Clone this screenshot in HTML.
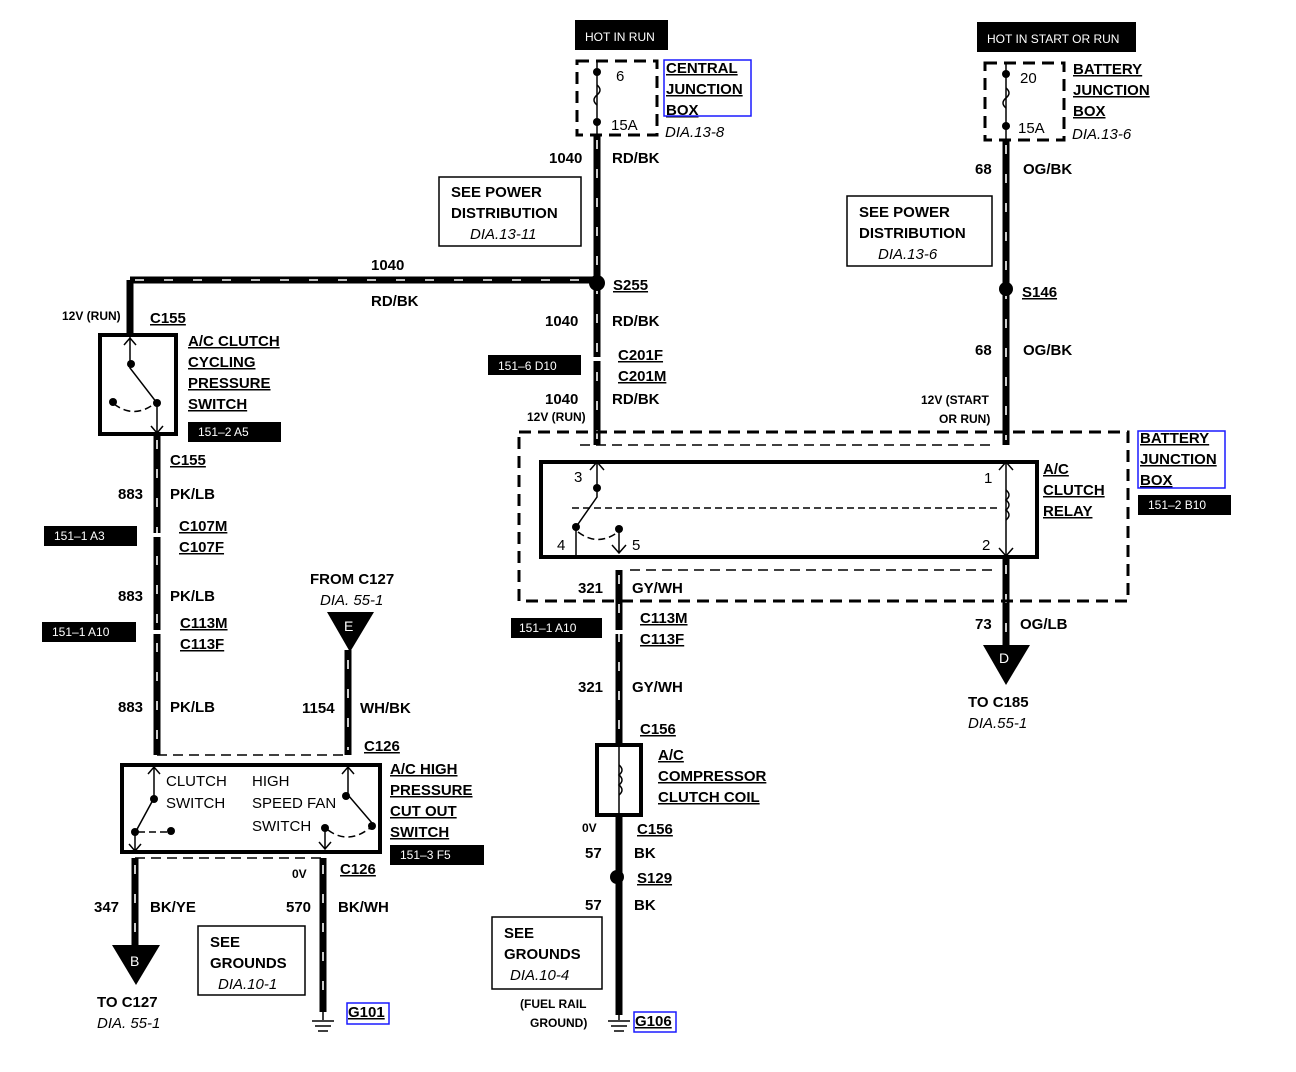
<!DOCTYPE html>
<html><head><meta charset="utf-8"><style>
body{margin:0;background:#fff}
svg{display:block}
text{font-family:"Liberation Sans",Arial,sans-serif;font-weight:bold;font-size:15px;fill:#000}
.n{font-weight:normal}
.i{font-style:italic;font-weight:normal}
.s{font-size:12px}
.u{text-decoration:underline}
.w{fill:#fff;font-weight:normal;font-size:12px}
.wire{stroke:#000;stroke-width:7;fill:none}
.st{stroke:#fff;stroke-width:1.6;stroke-dasharray:9 20;fill:none}
.ln{stroke:#000;stroke-width:1.5;fill:none}
.dash{stroke:#000;stroke-width:3;stroke-dasharray:12 7;fill:none}
.box{stroke:#000;stroke-width:4;fill:none}
.tb{stroke:#000;stroke-width:1.5;fill:#fff}
.blu{stroke:#1a1aff;stroke-width:1.5;fill:none}
</style></head><body>
<svg width="1296" height="1072" viewBox="0 0 1296 1072">
<g class="wire">
<path d="M597 135V445"/><path d="M1006 140V445"/><path d="M130 280H597"/><path d="M130 280V335"/>
<path d="M157 434V755"/><path d="M348 650V755"/><path d="M619 570V745"/><path d="M619 815V1015"/>
<path d="M1006 557V645"/><path d="M135 858V945"/><path d="M323 858V1012"/>
</g>
<g class="st">
<path d="M597 140V440"/><path d="M1006 145V440"/><path d="M135 280H590"/>
<path d="M157 440V750"/><path d="M348 660V750"/><path d="M619 575V740"/><path d="M1006 565V640"/><path d="M135 865V940"/><path d="M323 865V1005"/>
</g>
<g fill="#fff"><rect x="590" y="357" width="15" height="4"/><rect x="150" y="533" width="15" height="4"/><rect x="150" y="630" width="15" height="4"/><rect x="612" y="630" width="15" height="4"/></g>
<rect x="575" y="20" width="93" height="30" fill="#000"/><text x="585" y="41" class="w">HOT IN RUN</text>
<rect x="577" y="61" width="80" height="74" class="dash"/>
<path d="M597 62V135" class="ln" stroke-width="2"/><circle cx="597" cy="72" r="4"/><circle cx="597" cy="122" r="4"/>
<path d="M597 85q6 5 0 10q-6 5 0 10" class="ln" fill="#fff"/>
<text x="616" y="81" class="n">6</text><text x="611" y="130" class="n">15A</text>
<text x="666" y="73" class="u">CENTRAL</text><text x="666" y="94" class="u">JUNCTION</text><text x="666" y="115" class="u">BOX</text>
<rect x="664" y="60" width="87" height="56" class="blu"/><text x="665" y="137" class="i">DIA.13-8</text>
<text x="549" y="163">1040</text><text x="612" y="163">RD/BK</text>
<rect x="439" y="177" width="142" height="69" class="tb"/><text x="451" y="197">SEE POWER</text><text x="451" y="218">DISTRIBUTION</text><text x="470" y="239" class="i">DIA.13-11</text>
<circle cx="597" cy="283" r="8"/><text x="613" y="290" class="u">S255</text>
<text x="371" y="270">1040</text><text x="371" y="306">RD/BK</text>
<text x="545" y="326">1040</text><text x="612" y="326">RD/BK</text>
<text x="618" y="360" class="u">C201F</text><text x="618" y="381" class="u">C201M</text>
<rect x="488" y="355" width="93" height="20" fill="#000"/><text x="498" y="370" class="w">151–6 D10</text>
<text x="545" y="404">1040</text><text x="612" y="404">RD/BK</text><text x="527" y="421" class="s">12V (RUN)</text>
<rect x="977" y="22" width="159" height="30" fill="#000"/><text x="987" y="43" class="w">HOT IN START OR RUN</text>
<rect x="985" y="63" width="79" height="77" class="dash"/>
<path d="M1006 64V140" class="ln" stroke-width="2"/><circle cx="1006" cy="74" r="4"/><circle cx="1006" cy="126" r="4"/>
<path d="M1006 88q6 5 0 10q-6 5 0 10" class="ln" fill="#fff"/>
<text x="1020" y="83" class="n">20</text><text x="1018" y="133" class="n">15A</text>
<text x="1073" y="74" class="u">BATTERY</text><text x="1073" y="95" class="u">JUNCTION</text><text x="1073" y="116" class="u">BOX</text><text x="1072" y="139" class="i">DIA.13-6</text>
<text x="975" y="174">68</text><text x="1023" y="174">OG/BK</text>
<rect x="847" y="196" width="145" height="70" class="tb"/><text x="859" y="217">SEE POWER</text><text x="859" y="238">DISTRIBUTION</text><text x="878" y="259" class="i">DIA.13-6</text>
<circle cx="1006" cy="289" r="7"/><text x="1022" y="297" class="u">S146</text>
<text x="975" y="355">68</text><text x="1023" y="355">OG/BK</text>
<text x="921" y="404" class="s">12V (START</text><text x="939" y="423" class="s">OR RUN)</text>
<rect x="519" y="432" width="609" height="169" class="dash"/>
<path d="M580 445H995" class="ln" stroke-dasharray="10 6" stroke-width="2"/><path d="M630 570H995" class="ln" stroke-dasharray="10 6" stroke-width="2"/>
<rect x="541" y="462" width="496" height="95" class="box"/>
<path d="M597 464V497L576 527V557M1006 464V557" class="ln" stroke-width="2"/>
<circle cx="597" cy="488" r="4"/><circle cx="576" cy="527" r="4"/><circle cx="619" cy="529" r="4"/>
<path d="M619 529V552M612 545l7 8 7-8M590 470l7-8 7 8M999 470l7-8 7 8M999 548l7 8 7-8" class="ln" stroke-width="2"/>
<path d="M578 532q20 15 40 0M572 508H1000" class="ln" stroke-dasharray="7 4" stroke-width="2"/>
<path d="M1006 490q6 5 0 10q6 5 0 10q6 5 0 10" class="ln" stroke-width="2" fill="#fff"/>
<text x="574" y="482" class="n">3</text><text x="557" y="550" class="n">4</text><text x="632" y="550" class="n">5</text><text x="984" y="483" class="n">1</text><text x="982" y="550" class="n">2</text>
<text x="1043" y="474" class="u">A/C</text><text x="1043" y="495" class="u">CLUTCH</text><text x="1043" y="516" class="u">RELAY</text>
<text x="1140" y="443" class="u">BATTERY</text><text x="1140" y="464" class="u">JUNCTION</text><text x="1140" y="485" class="u">BOX</text>
<rect x="1138" y="431" width="87" height="57" class="blu"/>
<rect x="1138" y="495" width="93" height="20" fill="#000"/><text x="1148" y="509" class="w">151–2 B10</text>
<text x="578" y="593">321</text><text x="632" y="593">GY/WH</text>
<rect x="511" y="618" width="91" height="20" fill="#000"/><text x="519" y="632" class="w">151–1 A10</text>
<text x="640" y="623" class="u">C113M</text><text x="640" y="644" class="u">C113F</text>
<text x="578" y="692">321</text><text x="632" y="692">GY/WH</text><text x="640" y="734" class="u">C156</text>
<rect x="597" y="745" width="44" height="70" class="box" stroke-width="3.5"/>
<path d="M619 747V813" class="ln"/><path d="M619 765q6 5 0 10q6 5 0 10q6 5 0 10" class="ln" fill="#fff"/>
<text x="658" y="760" class="u">A/C</text><text x="658" y="781" class="u">COMPRESSOR</text><text x="658" y="802" class="u">CLUTCH COIL</text>
<text x="582" y="832" class="s">0V</text><text x="637" y="834" class="u">C156</text>
<text x="585" y="858">57</text><text x="634" y="858">BK</text>
<circle cx="617" cy="877" r="7"/><text x="637" y="883" class="u">S129</text>
<text x="585" y="910">57</text><text x="634" y="910">BK</text>
<rect x="492" y="917" width="110" height="72" class="tb"/><text x="504" y="938">SEE</text><text x="504" y="959">GROUNDS</text><text x="510" y="980" class="i">DIA.10-4</text>
<text x="520" y="1008" class="s">(FUEL RAIL</text><text x="530" y="1027" class="s">GROUND)</text>
<path d="M619 1015v5M608 1021h22M611 1026h16M614 1031h10" class="ln" stroke-width="2.5"/>
<text x="635" y="1026" class="u">G106</text><rect x="634" y="1012" width="42" height="20" class="blu"/>
<text x="975" y="629">73</text><text x="1020" y="629">OG/LB</text>
<path d="M983 645H1030L1006 685Z"/><text x="999" y="663" class="w" style="font-size:14px">D</text>
<text x="968" y="707">TO C185</text><text x="968" y="728" class="i">DIA.55-1</text>
<text x="62" y="320" class="s">12V (RUN)</text><text x="150" y="323" class="u">C155</text>
<rect x="100" y="335" width="76" height="99" class="box"/>
<path d="M130 337V368L157 403V432M151 426l6 7 6-7M124 345l6-7 6 7" class="ln" stroke-width="2"/>
<circle cx="131" cy="364" r="4"/><circle cx="157" cy="403" r="4"/><circle cx="113" cy="402" r="4"/>
<path d="M114 404q20 15 40 0" class="ln" stroke-dasharray="7 4" stroke-width="2"/>
<text x="188" y="346" class="u">A/C CLUTCH</text><text x="188" y="367" class="u">CYCLING</text><text x="188" y="388" class="u">PRESSURE</text><text x="188" y="409" class="u">SWITCH</text>
<rect x="188" y="422" width="93" height="20" fill="#000"/><text x="198" y="436" class="w">151–2 A5</text>
<text x="170" y="465" class="u">C155</text>
<text x="118" y="499">883</text><text x="170" y="499">PK/LB</text>
<text x="179" y="531" class="u">C107M</text><text x="179" y="552" class="u">C107F</text>
<rect x="44" y="526" width="93" height="20" fill="#000"/><text x="54" y="540" class="w">151–1 A3</text>
<text x="118" y="601">883</text><text x="170" y="601">PK/LB</text>
<text x="180" y="628" class="u">C113M</text><text x="180" y="649" class="u">C113F</text>
<rect x="42" y="622" width="94" height="20" fill="#000"/><text x="52" y="636" class="w">151–1 A10</text>
<text x="118" y="712">883</text><text x="170" y="712">PK/LB</text>
<text x="310" y="584">FROM C127</text><text x="320" y="605" class="i">DIA. 55-1</text>
<path d="M327 612H374L350 652Z"/><text x="344" y="631" class="w" style="font-size:14px">E</text>
<text x="302" y="713">1154</text><text x="360" y="713">WH/BK</text><text x="364" y="751" class="u">C126</text>
<path d="M157 755H348" class="ln" stroke-width="2" stroke-dasharray="10 6"/>
<rect x="122" y="765" width="258" height="87" class="box"/>
<path d="M154 767V798L135 833V850M129 844l6 7 6-7M148 774l6-7 6 7M348 767V795L372 823M342 774l6-7 6 7M325 828V848M319 842l6 7 6-7" class="ln" stroke-width="2"/>
<circle cx="154" cy="799" r="4"/><circle cx="135" cy="832" r="4"/><circle cx="171" cy="831" r="4"/><circle cx="346" cy="796" r="4"/><circle cx="372" cy="826" r="4"/><circle cx="325" cy="828" r="4"/>
<path d="M138 832H168M328 830q20 15 42 -2" class="ln" stroke-dasharray="7 4" stroke-width="2"/>
<text x="166" y="786" class="n">CLUTCH</text><text x="166" y="808" class="n">SWITCH</text>
<text x="252" y="786" class="n">HIGH</text><text x="252" y="808" class="n">SPEED FAN</text><text x="252" y="831" class="n">SWITCH</text>
<text x="390" y="774" class="u">A/C HIGH</text><text x="390" y="795" class="u">PRESSURE</text><text x="390" y="816" class="u">CUT OUT</text><text x="390" y="837" class="u">SWITCH</text>
<rect x="390" y="845" width="94" height="20" fill="#000"/><text x="400" y="859" class="w">151–3 F5</text>
<path d="M135 858H323" class="ln" stroke-width="2" stroke-dasharray="10 6"/>
<text x="292" y="878" class="s">0V</text><text x="340" y="874" class="u">C126</text>
<text x="94" y="912">347</text><text x="150" y="912">BK/YE</text>
<text x="286" y="912">570</text><text x="338" y="912">BK/WH</text>
<path d="M112 945H160L136 985Z"/><text x="130" y="966" class="w" style="font-size:14px">B</text>
<text x="97" y="1007">TO C127</text><text x="97" y="1028" class="i">DIA. 55-1</text>
<rect x="198" y="926" width="107" height="69" class="tb"/><text x="210" y="947">SEE</text><text x="210" y="968">GROUNDS</text><text x="218" y="989" class="i">DIA.10-1</text>
<path d="M323 1012v8M312 1021h22M315 1026h16M318 1031h10" class="ln" stroke-width="2.5"/>
<text x="348" y="1017" class="u">G101</text><rect x="347" y="1003" width="42" height="21" class="blu"/>
</svg>
</body></html>
